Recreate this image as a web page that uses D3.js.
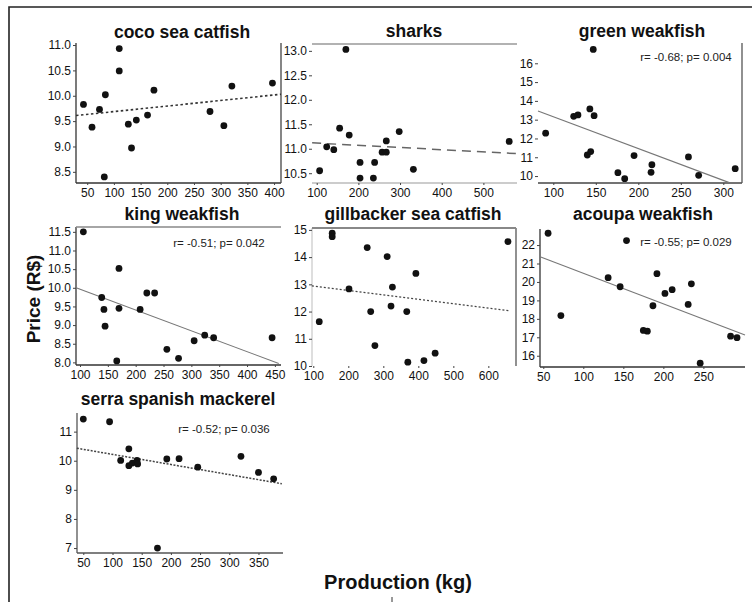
<!DOCTYPE html>
<html>
<head>
<meta charset="utf-8">
<script src="https://cdn.jsdelivr.net/npm/d3@7"></script>
<style>
  body { margin: 0; background: #fff; }
  svg { display: block; font-family: "Liberation Sans", Arial, sans-serif; }
</style>
</head>
<body>
<div id="wrapper"></div>
<script>
// values (production kg / price R$)
const cocoX = [43, 59, 73, 84, 82, 110, 110, 127, 142, 133, 163, 175, 280, 306, 321, 397]
const cocoY = [9.83, 9.38, 9.73, 10.02, 8.40, 10.93, 10.49, 9.44, 9.52, 8.97, 9.62, 10.11, 9.69, 9.41, 10.19, 10.25]
const cocoTrend = [[29, 9.61], [413, 10.03]]
const cocoXTicks = [50, 100, 150, 200, 250, 300, 350, 400]
const cocoYTicks = [8.5, 9.0, 9.5, 10.0, 10.5, 11.0]

const sharksX = [107, 124, 141, 155, 170, 178, 204, 204, 236, 239, 257, 267, 267, 298, 332, 562]
const sharksY = [10.55, 11.04, 10.98, 11.42, 13.03, 11.28, 10.72, 10.40, 10.40, 10.72, 10.93, 10.93, 11.16, 11.35, 10.58, 11.15]
const sharksTrend = [[89, 11.12], [581, 10.90]]
const sharksXTicks = [100, 200, 300, 400, 500]
const sharksYTicks = [10.5, 11.0, 11.5, 12.0, 12.5, 13.0]

const greenX = [91, 124, 129, 143, 148, 147, 140, 144, 176, 184, 195, 215, 216, 259, 271, 314]
const greenY = [12.28, 13.18, 13.25, 13.57, 13.21, 16.74, 11.12, 11.30, 10.18, 9.86, 11.09, 10.20, 10.60, 11.02, 10.04, 10.39]
const greenTrend = [[82, 13.46], [307, 9.65]]
const greenXTicks = [100, 150, 200, 250, 300]
const greenYTicks = [10, 11, 12, 13, 14, 15, 16]

const kingX = [106, 170, 139, 143, 145, 166, 170, 208, 220, 234, 256, 277, 305, 324, 340, 445]
const kingY = [11.50, 10.52, 9.74, 9.42, 8.97, 8.04, 9.45, 9.42, 9.86, 9.86, 8.35, 8.11, 8.58, 8.73, 8.66, 8.66]
const kingTrend = [[93, 10.0], [457, 7.97]]
const kingXTicks = [100, 150, 200, 250, 300, 350, 400, 450]
const kingYTicks = [8.0, 8.5, 9.0, 9.5, 10.0, 10.5, 11.0, 11.5]

const gillX = [117, 154, 154, 202, 254, 264, 276, 311, 326, 322, 367, 393, 370, 416, 448, 656]
const gillY = [11.63, 14.88, 14.75, 12.83, 14.35, 12.00, 10.75, 14.02, 12.90, 12.20, 12.00, 13.40, 10.14, 10.20, 10.47, 14.57]
const gillTrend = [[96, 12.94], [662, 12.03]]
const gillXTicks = [100, 200, 300, 400, 500, 600]
const gillYTicks = [10, 11, 12, 13, 14, 15]

const acoupaX = [56, 72, 154, 131, 146, 175, 180, 187, 192, 202, 211, 231, 235, 246, 284, 292]
const acoupaY = [22.64, 18.18, 22.24, 20.23, 19.74, 17.37, 17.33, 18.71, 20.45, 19.38, 19.58, 18.78, 19.90, 15.60, 17.06, 16.98]
const acoupaTrend = [[46, 21.37], [302, 17.12]]
const acoupaXTicks = [50, 100, 150, 200, 250]
const acoupaYTicks = [16, 17, 18, 19, 20, 21, 22]

const serraX = [50, 95, 114, 128, 128, 134, 142, 143, 177, 193, 214, 246, 320, 350, 376]
const serraY = [11.43, 11.34, 10.01, 10.41, 9.83, 9.92, 10.01, 9.89, 7.00, 10.06, 10.07, 9.78, 10.15, 9.60, 9.38]
const serraTrend = [[39, 10.43], [390, 9.21]]
const serraXTicks = [50, 100, 150, 200, 250, 300, 350]
const serraYTicks = [7, 8, 9, 10, 11]

width = 752
height = 602

// panel layout: plot box, axis extent, frame lines, trend style
const panels = [
  { title: "coco sea catfish", xs: cocoX, ys: cocoY, trend: cocoTrend, xt: cocoXTicks, yt: cocoYTicks,
    box: [76, 281, 43, 183], xd: [29, 413], yd: [8.28, 11.04], fmt: ".1f", tx: 182, ty: 38,
    sides: { left: "#333", bottom: "#333", right: "#444" }, dash: "2.5,2.5", lc: "#333", lw: 1.6 },
  { title: "sharks", xs: sharksX, ys: sharksY, trend: sharksTrend, xt: sharksXTicks, yt: sharksYTicks,
    box: [312, 517, 44, 183], xd: [88.7, 580.7], yd: [10.30, 13.14], fmt: ".1f", tx: 414, ty: 37,
    sides: { top: "#999", bottom: "#bbb" }, dash: "9,6", lc: "#666", lw: 1.5 },
  { title: "green weakfish", xs: greenX, ys: greenY, trend: greenTrend, xt: greenXTicks, yt: greenYTicks,
    box: [538, 742, 43, 183], xd: [82, 322], yd: [9.63, 17.08], fmt: "d", tx: 642, ty: 37,
    sides: { bottom: "#444", right: "#555" }, dash: null, lc: "#777", lw: 1.1,
    stat: "r= -0.68; p= 0.004", sx: 686, sy: 61 },
  { title: "king weakfish", xs: kingX, ys: kingY, trend: kingTrend, xt: kingXTicks, yt: kingYTicks,
    box: [76, 281, 227, 365], xd: [92.8, 461], yd: [7.93, 11.63], fmt: ".1f", tx: 182, ty: 220,
    sides: { top: "#888", left: "#333", bottom: "#333" }, dash: null, lc: "#777", lw: 1.1,
    stat: "r= -0.51; p= 0.042", sx: 219, sy: 247 },
  { title: "gillbacker sea catfish", xs: gillX, ys: gillY, trend: gillTrend, xt: gillXTicks, yt: gillYTicks,
    box: [312, 516, 228, 366], xd: [96.3, 679], yd: [10.0, 15.07], fmt: "d", tx: 413, ty: 220,
    sides: { top: "#888", left: "#ccc", right: "#555" }, dash: "2,2", lc: "#444", lw: 1.3, topw: 2.2 },
  { title: "acoupa weakfish", xs: acoupaX, ys: acoupaY, trend: acoupaTrend, xt: acoupaXTicks, yt: acoupaYTicks,
    box: [540, 745, 229, 367], xd: [45.9, 302], yd: [15.39, 22.87], fmt: "d", tx: 643, ty: 220,
    sides: { left: "#333", bottom: "#333" }, dash: null, lc: "#777", lw: 1.1,
    stat: "r= -0.55; p= 0.029", sx: 686, sy: 246 },
  { title: "serra spanish mackerel", xs: serraX, ys: serraY, trend: serraTrend, xt: serraXTicks, yt: serraYTicks,
    box: [77, 283, 413, 553], xd: [39.2, 392], yd: [6.83, 11.64], fmt: "d", tx: 178, ty: 405,
    sides: { left: "#555", bottom: "#555" }, dash: "2,1.5", lc: "#444", lw: 1.5,
    stat: "r= -0.52; p= 0.036", sx: 224, sy: 433 }
]

const wrapper = d3.select("#wrapper")
  .append("svg")
  .attr("width", width)
  .attr("height", height)

// outer frame (top and left edge only)
wrapper.append("path")
  .attr("d", "M9,602V7H752")
  .attr("fill", "none")
  .attr("stroke", "#222")
  .attr("stroke-width", 1.6)

panels.forEach(p => {
  const [x0, x1, y0, y1] = p.box
  const xScale = d3.scaleLinear().domain(p.xd).range([x0, x1])
  const yScale = d3.scaleLinear().domain(p.yd).range([y1, y0])

  const g = wrapper.append("g")

  // frame lines
  const s = p.sides
  const line = (ax, ay, bx, by, c, w) => g.append("line")
    .attr("x1", ax).attr("y1", ay).attr("x2", bx).attr("y2", by)
    .attr("stroke", c).attr("stroke-width", w || 1.3)
  if (s.left) line(x0, y0, x0, y1, s.left)
  if (s.bottom) line(x0, y1, x1, y1, s.bottom)
  if (s.right) line(x1, y0, x1, y1, s.right)
  if (s.top) line(x0, y0, x1, y0, s.top, p.topw || 1.6)

  const yAxis = g.append("g")
    .attr("transform", `translate(${x0},0)`)
    .call(d3.axisLeft(yScale).tickValues(p.yt).tickFormat(d3.format(p.fmt)).tickSize(3).tickPadding(2))
  const xAxis = g.append("g")
    .attr("transform", `translate(0,${y1})`)
    .call(d3.axisBottom(xScale).tickValues(p.xt).tickFormat(d3.format("d")).tickSize(2).tickPadding(3))

  ;[xAxis, yAxis].forEach(a => {
    a.select(".domain").remove()
    a.selectAll(".tick line").attr("stroke", "#444")
    a.selectAll("text")
      .style("font-family", "'Liberation Sans', Arial, sans-serif")
      .style("font-size", "12px")
      .attr("fill", "#111")
  })

  // trend line
  g.append("line")
    .attr("x1", xScale(p.trend[0][0])).attr("y1", yScale(p.trend[0][1]))
    .attr("x2", xScale(p.trend[1][0])).attr("y2", yScale(p.trend[1][1]))
    .attr("stroke", p.lc)
    .attr("stroke-width", p.lw)
    .attr("stroke-dasharray", p.dash)

  g.selectAll("circle").data(p.xs.map((v, i) => [v, p.ys[i]]))
    .enter().append("circle")
    .attr("cx", d => xScale(d[0]))
    .attr("cy", d => yScale(d[1]))
    .attr("r", 3.4)
    .attr("fill", "#111")

  g.append("text")
    .attr("x", p.tx).attr("y", p.ty)
    .attr("text-anchor", "middle")
    .style("font-size", "17.5px")
    .style("font-weight", "bold")
    .attr("fill", "#111")
    .text(p.title)

  if (p.stat) {
    g.append("text")
      .attr("x", p.sx).attr("y", p.sy)
      .attr("text-anchor", "middle")
      .style("font-size", "11.5px")
      .attr("fill", "#222")
      .text(p.stat)
  }
})

wrapper.append("text")
  .attr("transform", "translate(40,299) rotate(-90)")
  .attr("text-anchor", "middle")
  .style("font-size", "19px")
  .style("font-weight", "bold")
  .attr("fill", "#111")
  .text("Price (R$)")

wrapper.append("text")
  .attr("x", 398).attr("y", 589)
  .attr("text-anchor", "middle")
  .style("font-size", "20px")
  .style("font-weight", "bold")
  .attr("fill", "#111")
  .text("Production (kg)")

// small scan mark under the x title
wrapper.append("line")
  .attr("x1", 392).attr("y1", 597).attr("x2", 392).attr("y2", 602)
  .attr("stroke", "#333")
</script>
</body>
</html>
